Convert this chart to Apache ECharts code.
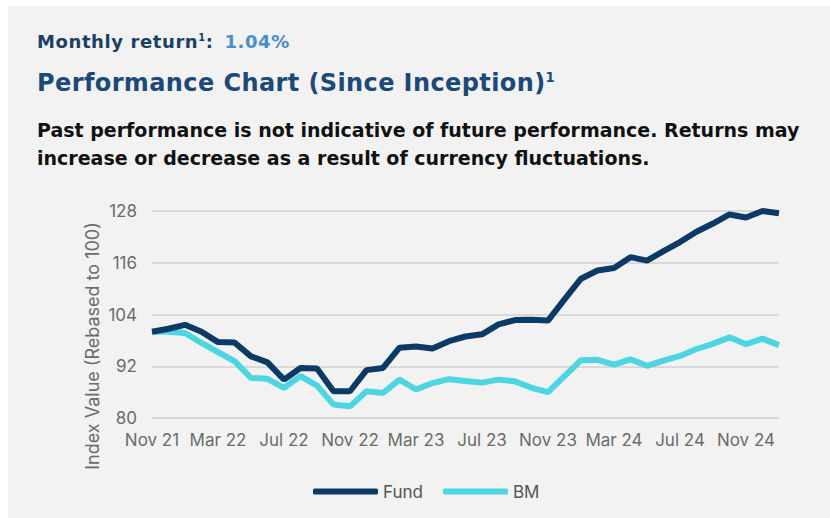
<!DOCTYPE html>
<html>
<head>
<meta charset="utf-8">
<script src="https://cdn.jsdelivr.net/npm/echarts@6/dist/echarts.min.js"></script>
<style>
  html, body { margin: 0; padding: 0; background: #fff; }
  #panel {
    position: absolute; left: 8px; top: 6px; width: 822px; height: 512px;
    background: #f2f2f2; font-family: "DejaVu Sans", sans-serif;
  }
  .ret { position: absolute; left: 29px; top: 24px; font-size: 18px; letter-spacing: 0.6px; font-weight: 700; color: #1c3f66; line-height: 24px; }
  .ret span { color: #4b8ec8; margin-left: 4px; }
  .ttl { position: absolute; left: 29px; top: 62px; font-size: 24px; letter-spacing: 0.4px; font-weight: 700; color: #1c4a78; line-height: 30px; }
  .note { position: absolute; left: 29px; top: 110px; width: 800px; font-size: 19px; font-weight: 700; color: #111; line-height: 28px; white-space: nowrap; }
  sup { font-size: 55%; vertical-align: 0.7em; line-height: 0; }
  #chart { position: absolute; left: 0; top: 0; width: 830px; height: 518px; }
</style>
</head>
<body>
<div id="panel">
  <div class="ret">Monthly return<sup>1</sup>: <span>1.04%</span></div>
  <div class="ttl">Performance Chart (Since Inception)<sup>1</sup></div>
  <div class="note">Past performance is not indicative of future performance. Returns may<br>increase or decrease as a result of currency fluctuations.</div>
</div>
<div id="chart"></div>
<script>
// months, Nov 21 .. Jan 25
var months = [
  'Nov 21', 'Dec 21', 'Jan 22', 'Feb 22', 'Mar 22', 'Apr 22', 'May 22', 'Jun 22',
  'Jul 22', 'Aug 22', 'Sep 22', 'Oct 22', 'Nov 22', 'Dec 22', 'Jan 23', 'Feb 23',
  'Mar 23', 'Apr 23', 'May 23', 'Jun 23', 'Jul 23', 'Aug 23', 'Sep 23', 'Oct 23',
  'Nov 23', 'Dec 23', 'Jan 24', 'Feb 24', 'Mar 24', 'Apr 24', 'May 24', 'Jun 24',
  'Jul 24', 'Aug 24', 'Sep 24', 'Oct 24', 'Nov 24', 'Dec 24', 'Jan 25'
]

var fund = [
  100, 100.7, 101.6, 100.0, 97.6, 97.5, 94.3, 92.9, 88.9, 91.6,
  91.5, 86.2, 86.2, 91.1, 91.6, 96.3, 96.6, 96.1, 97.8, 98.9,
  99.4, 101.7, 102.7, 102.8, 102.6, 107.5, 112.3, 114.2, 114.8, 117.3,
  116.5, 118.7, 120.8, 123.2, 125.1, 127.2, 126.5, 128.0, 127.5
]

var bm = [
  100, 100, 99.7, 97.4, 95.3, 93.2, 89.3, 89.1, 87.0, 89.7,
  87.5, 83.1, 82.7, 86.2, 85.8, 88.9, 86.6, 88.1, 89.0, 88.6,
  88.2, 88.9, 88.5, 87.0, 86.0, 89.7, 93.4, 93.5, 92.4, 93.6,
  92.1, 93.3, 94.4, 96.0, 97.2, 98.7, 97.1, 98.4, 96.9
]

var yTicks = [80, 92, 104, 116, 128]

var myChart = echarts.init(document.getElementById('chart'), null, { renderer: 'svg' })
var labelStyle = { color: '#6b6b6b', fontSize: 17, fontFamily: 'Inter, sans-serif' }

var option = {
  animation: false,
  grid: { left: 152, right: 51, top: 211, bottom: 100 },
  xAxis: {
    type: 'category',
    data: months,
    boundaryGap: false,
    axisLine: { show: false },
    axisTick: { show: false },
    axisLabel: Object.assign({ interval: 3, margin: 13 }, labelStyle)
  },
  yAxis: {
    type: 'value',
    min: yTicks[0],
    max: yTicks[yTicks.length - 1],
    interval: 12,
    axisLabel: Object.assign({ margin: 15 }, labelStyle),
    splitLine: { lineStyle: { color: '#d9d9d9', width: 2 } }
  },
  legend: {
    left: 313,
    top: 483,
    padding: 0,
    icon: 'roundRect',
    itemWidth: 65,
    itemHeight: 6,
    itemGap: 20,
    textStyle: { color: '#555', fontSize: 17, fontFamily: 'Inter, sans-serif' },
    data: ['Fund', 'BM']
  },
  graphic: [{
    type: 'text',
    x: 92,
    y: 346,
    rotation: Math.PI / 2,
    style: {
      text: 'Index Value (Rebased to 100)',
      fill: '#6b6b6b',
      font: '18px Inter, sans-serif',
      align: 'center',
      verticalAlign: 'middle'
    }
  }],
  series: [
    {
      name: 'Fund',
      type: 'line',
      data: fund,
      symbol: 'none',
      color: '#0c3a66',
      lineStyle: { width: 6, color: '#0c3a66' },
      z: 3
    },
    {
      name: 'BM',
      type: 'line',
      data: bm,
      symbol: 'none',
      color: '#4dd6e2',
      lineStyle: { width: 6, color: '#4dd6e2' },
      z: 2
    }
  ]
}

myChart.setOption(option)
</script>
</body>
</html>
